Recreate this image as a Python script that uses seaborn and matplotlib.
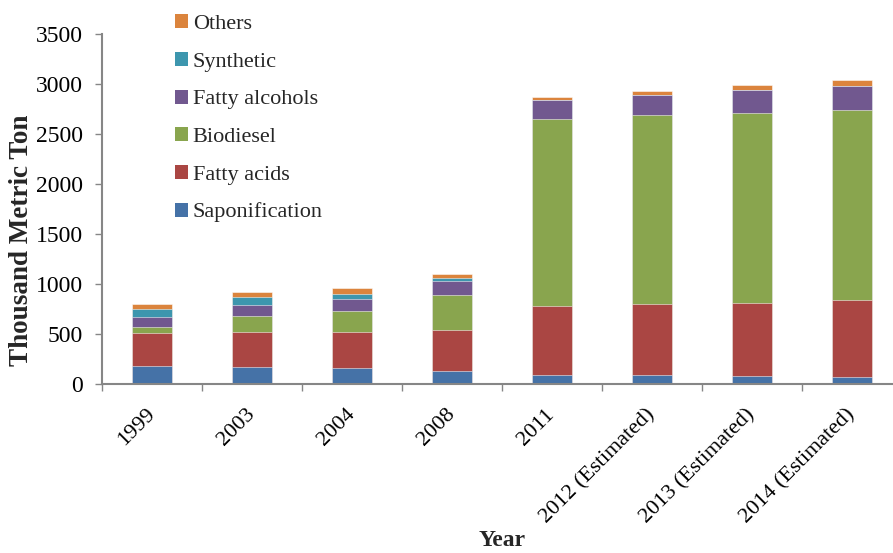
import numpy as np
import pandas as pd
import matplotlib
matplotlib.use("Agg")
import matplotlib.pyplot as plt
from matplotlib.ticker import FixedLocator
from matplotlib.patches import Patch
import seaborn as sns

years = ["1999", "2003", "2004", "2008", "2011",
         "2012 (Estimated)", "2013 (Estimated)", "2014 (Estimated)"]
saponification = [185, 170, 165, 135, 90, 90, 80, 75]
fatty_acids = [325, 350, 355, 405, 690, 710, 735, 765]
biodiesel = [60, 160, 215, 350, 1870, 1890, 1900, 1900]
fatty_alcohols = [105, 110, 120, 140, 195, 205, 225, 240]
synthetic = [75, 80, 50, 35, 0, 0, 0, 0]
others = [50, 50, 55, 40, 30, 35, 55, 60]

series_names = ["Saponification", "Fatty acids", "Biodiesel",
                "Fatty alcohols", "Synthetic", "Others"]
series_values = [saponification, fatty_acids, biodiesel,
                 fatty_alcohols, synthetic, others]
colors = ["#4572A7", "#AA4643", "#89A54E", "#71588F", "#3D96AE", "#DB843D"]

sns.set_theme(style="white")
plt.rcParams["font.family"] = ["Liberation Serif", "DejaVu Serif"]

fig = plt.figure(figsize=(8.93, 5.53), dpi=100)
# the plotting area runs a little past the right edge of the figure
ax = fig.add_axes([102 / 893, 1 - 384 / 553, 800 / 893, 350 / 553])

# stacked bars: draw cumulative totals from the top series down
cum = np.cumsum(np.array(series_values, dtype=float), axis=0)
for i in range(len(series_names) - 1, -1, -1):
    df = pd.DataFrame({"Year": years, "Value": cum[i]})
    sns.barplot(data=df, x="Year", y="Value", order=years, color=colors[i],
                saturation=1, width=0.4, edgecolor=(1, 1, 1, 0.6),
                linewidth=0.6, ax=ax, errorbar=None)

ax.set_ylim(0, 3500)
ax.set_xlim(-0.5, len(years) - 0.5)
ax.set_yticks(np.arange(0, 3501, 500))
ax.tick_params(axis="y", labelsize=17, length=5, width=1, color="#868686",
               direction="out", left=True, pad=9, labelcolor="black")
ax.xaxis.set_minor_locator(FixedLocator(np.arange(-0.5, len(years), 1.0)))
ax.tick_params(axis="x", which="minor", length=5, width=1, color="#868686",
               direction="out", bottom=True)
ax.tick_params(axis="x", which="major", length=0, labelsize=16, pad=20,
               labelcolor="black")
for lbl in ax.get_xticklabels():
    lbl.set_rotation(45)
    lbl.set_ha("right")
    lbl.set_va("center")
    lbl.set_rotation_mode("anchor")

for side in ["top", "right"]:
    ax.spines[side].set_visible(False)
for side in ["left", "bottom"]:
    ax.spines[side].set_color("#868686")
    ax.spines[side].set_linewidth(1.5)

ax.set_xlabel("Year", fontsize=17, fontweight="bold")
ax.xaxis.set_label_coords(0.5, -157 / 350)
ax.xaxis.label.set_va("center")
ax.set_ylabel("Thousand Metric Ton", fontsize=19.5, fontweight="bold")
ax.yaxis.set_label_coords(-80 / 800, (384 - 240) / 350)
ax.yaxis.label.set_va("center")

handles = [Patch(facecolor=colors[i], edgecolor="none") for i in range(len(series_names))][::-1]
labels = series_names[::-1]
leg = ax.legend(handles, labels, loc="upper left", bbox_to_anchor=(0.08, 1.082),
                frameon=False, fontsize=16, handlelength=0.6, handleheight=0.6,
                handletextpad=0.2, labelspacing=0.8, borderaxespad=0)

fig.savefig("out.png", dpi=100)
